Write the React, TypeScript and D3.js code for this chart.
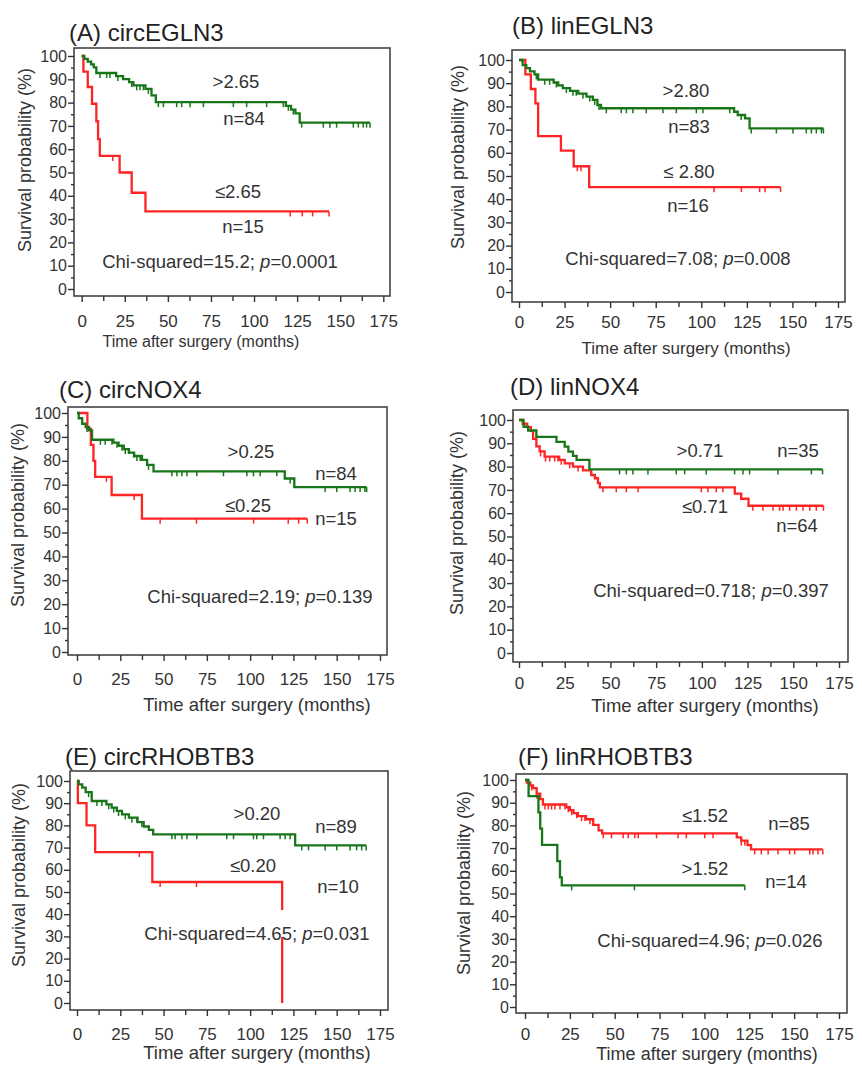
import React, { useEffect, useRef } from 'react';
import * as d3 from 'd3';

const FONT = '"Liberation Sans", Arial, Helvetica, sans-serif';
const GREEN = '#187518';
const RED = '#ff2424';

const xTicks = [0, 25, 50, 75, 100, 125, 150, 175];
const xMinor = [12.5, 37.5, 62.5, 87.5, 112.5, 137.5, 162.5];
const yTicks = [0, 10, 20, 30, 40, 50, 60, 70, 80, 90, 100];
const yMinor = [5, 15, 25, 35, 45, 55, 65, 75, 85, 95];

// (A) circEGLN3
const aHighTimes = [1.5, 3.5, 5.5, 7, 8.5, 20, 24, 27.5, 30, 37, 40.5, 43, 118.5, 121.5, 124, 126.5];
const aHighSurv = [98.8, 97.6, 96.4, 95.1, 92.7, 91.4, 90.1, 88.8, 87.4, 85.9, 83.1, 80.2, 78.6, 77.0, 75.4, 71.4];
const aHighCens = [10.6, 14.5, 16.4, 21, 29, 31.9, 33.8, 35.8, 38.7, 44.5, 47.4, 55.1, 58, 62.9, 70.6, 88, 95.7, 107.3, 117, 119.9, 122.8, 127.6, 140.2, 144, 147.9, 157.6, 160.5, 163.4, 165.3, 167.3];
const aLowTimes = [1, 3.5, 6, 8.5, 9.5, 10.5, 22, 29, 37];
const aLowSurv = [93.3, 86.7, 79.5, 72.0, 64.3, 57.1, 50.0, 41.3, 33.3];
const aLowCens = [18, 121, 128, 134, 143.5];

// (B) linEGLN3
const bHighTimes = [2, 4, 6, 8.5, 10.5, 19, 21.5, 24, 28, 32.5, 37, 40.5, 43, 45, 118, 120, 124, 126.5];
const bHighSurv = [97.8, 96.5, 95.1, 93.8, 91.5, 90.3, 89.1, 87.9, 86.7, 85.5, 84.2, 82.8, 80.6, 79.2, 77.7, 76.3, 74.8, 70.5];
const bHighCens = [9.5, 14.1, 16.8, 20.5, 26, 29.6, 31.4, 35.1, 38.8, 41.5, 43.9, 47.9, 56.1, 58.9, 62.5, 69.8, 79, 86.3, 97.3, 100.9, 115.6, 121.9, 127.4, 141.2, 150.3, 157.6, 160.4, 163.1, 165.9, 167];
const bLowTimes = [3.5, 6.5, 9, 10.5, 23, 30, 38.5];
const bLowSurv = [93.8, 87.5, 81.3, 67.2, 60.9, 54.2, 45.2];
const bLowCens = [32, 34, 107, 122, 132, 135, 143.5];

// (C) circNOX4
const cHighTimes = [1, 3, 5, 7, 8.7, 21, 24, 27, 30, 33, 37.5, 40.5, 44.2, 120, 125.5];
const cHighSurv = [97.8, 95.5, 94.1, 92.7, 88.8, 87.6, 86.3, 84.9, 83.4, 82.0, 80.4, 78.3, 75.6, 72.6, 69.0];
const cHighCens = [5.8, 13.5, 16.3, 20.2, 23.1, 26, 27.9, 29.8, 32.7, 34.6, 36.5, 41.3, 54.8, 57.7, 60.6, 63.5, 69.2, 84.6, 98.1, 101.9, 105.8, 115.4, 123.1, 143.3, 150, 157.7, 160.6, 163.5, 166.3, 167.3];
const cLowTimes = [6, 8, 9.5, 10.5, 20, 37.5];
const cLowSurv = [93.3, 86.7, 80, 73.3, 65.7, 55.8];
const cLowCens = [17, 33, 48, 69, 102, 122, 128, 133];

// (D) linNOX4
const dHighTimes = [2.5, 5, 9.5, 20.5, 25, 27, 29.5, 31.5, 38.5];
const dHighSurv = [97.1, 95.5, 92.8, 90.6, 88.6, 86.4, 84.6, 82.9, 78.8];
const dHighCens = [55, 58.7, 62.3, 70.5, 86, 90.6, 102.4, 117.9, 122.5, 126.1, 141.6, 159.9, 166];
const dLowTimes = [2, 4.5, 6.5, 7.7, 9.5, 11.3, 14, 22, 25, 29.5, 35, 39.5, 41.5, 43.2, 44.2, 118, 121.5, 125.5];
const dLowSurv = [98.4, 96.9, 95.3, 91.9, 88.7, 86.5, 84.3, 82.9, 81.4, 80.0, 78.4, 76.4, 75.0, 72.9, 71.1, 68.4, 66.2, 63.2];
const dLowCens = [11.8, 14.5, 16.8, 19.5, 21.3, 23.1, 27.7, 32.3, 45.9, 53.2, 58.7, 65.1, 99.7, 103.3, 107.9, 111.5, 127.9, 133.4, 138.9, 142.5, 144.4, 148, 151.7, 155.3, 159, 162.6, 166.5];

// (E) circRHOBTB3
const eHighTimes = [1, 3, 5, 8.5, 17, 20, 23, 26, 30, 35, 38.5, 41.5, 44, 126];
const eHighSurv = [98.5, 97, 95, 91, 89.5, 88, 86.5, 85, 83.5, 81.5, 79.5, 78, 76, 71];
const eHighCens = [6.7, 11.5, 14.4, 18.3, 21.2, 24, 27.9, 31.7, 34.6, 37.5, 54.8, 56.7, 60.6, 63.5, 69.2, 86.5, 90.4, 101.9, 103.8, 107.7, 117.3, 120.2, 123.1, 129.8, 133.7, 143.3, 150, 157.7, 161.5, 164.4, 167];
const eLowTimes = [0.5, 5.5, 10.5, 43.5, 118.5];
const eLowSurv = [90, 80, 68, 54.5, 0];
const eLowCens = [36, 48, 69];

// (F) linRHOBTB3
const fLowTimes = [1, 3, 4.5, 6.5, 8.5, 10, 23, 25, 27, 29.5, 34, 38, 41, 43, 118, 120.5, 124, 126];
const fLowSurv = [98.8, 97.6, 96.4, 94.0, 91.6, 89.2, 88.0, 86.7, 85.4, 84.1, 82.7, 80.2, 77.8, 76.5, 74.7, 73.3, 71.3, 69.4];
const fLowCens = [3.7, 6.5, 8.4, 11.1, 13, 14.8, 16.7, 19.5, 22.3, 24.1, 26, 28.8, 31.5, 33.4, 36.2, 43.6, 48.2, 54.7, 57.5, 61.2, 63.1, 73.3, 85.3, 89.9, 100.2, 104.8, 120.6, 122.5, 128, 131.7, 135.5, 141, 147.5, 150.3, 158.7, 160.5, 163.3, 166];
const fHighTimes = [2, 7.5, 8.5, 9.5, 18, 19.5, 20.5];
const fHighSurv = [92.9, 85.7, 78.6, 71.4, 64.3, 57.1, 53.6];
const fHighCens = [26, 61, 122.5];

const panels = [
  {
    title: '(A) circEGLN3', titlePos: [69, 41],
    frame: [74, 48, 390, 296], xr: [81.7, 383.3], yr: [289, 56],
    xLabelY: 327, xTitle: [201, 347, 16], yTitle: [31, 160],
    curves: [
      { times: aLowTimes, surv: aLowSurv, cens: aLowCens, color: RED },
      { times: aHighTimes, surv: aHighSurv, cens: aHighCens, color: GREEN },
    ],
    notes: [['>2.65', 236, 88], ['n=84', 244, 125], ['≤2.65', 238, 198], ['n=15', 243, 233]],
    chi: ['15.2', '0.0001', 220, 268],
  },
  {
    title: '(B) linEGLN3', titlePos: [512, 34],
    frame: [512, 50, 845, 302], xr: [519, 838], yr: [292, 60],
    xLabelY: 328, xTitle: [686, 354, 17], yTitle: [464, 157],
    curves: [
      { times: bLowTimes, surv: bLowSurv, cens: bLowCens, color: RED },
      { times: bHighTimes, surv: bHighSurv, cens: bHighCens, color: GREEN },
    ],
    notes: [['>2.80', 686, 97], ['n=83', 689, 133], ['≤ 2.80', 689, 178], ['n=16', 688, 212]],
    chi: ['7.08', '0.008', 678, 265],
  },
  {
    title: '(C) circNOX4', titlePos: [59, 398],
    frame: [68, 407, 387, 655], xr: [77, 380], yr: [652, 413],
    xLabelY: 685, xTitle: [257, 711, 18.5], yTitle: [24, 515],
    curves: [
      { times: cLowTimes, surv: cLowSurv, cens: cLowCens, color: RED },
      { times: cHighTimes, surv: cHighSurv, cens: cHighCens, color: GREEN },
    ],
    notes: [['>0.25', 251, 458], ['n=84', 336, 480], ['≤0.25', 248, 512], ['n=15', 336, 525]],
    chi: ['2.19', '0.139', 260, 603],
  },
  {
    title: '(D) linNOX4', titlePos: [510, 395],
    frame: [513, 410, 848, 662], xr: [519, 839], yr: [653, 420],
    xLabelY: 689, xTitle: [705, 712, 18.5], yTitle: [463, 523],
    curves: [
      { times: dLowTimes, surv: dLowSurv, cens: dLowCens, color: RED },
      { times: dHighTimes, surv: dHighSurv, cens: dHighCens, color: GREEN },
    ],
    notes: [['>0.71', 700, 457], ['n=35', 798, 457], ['≤0.71', 705, 513], ['n=64', 797, 532]],
    chi: ['0.718', '0.397', 711, 597],
  },
  {
    title: '(E) circRHOBTB3', titlePos: [65, 765],
    frame: [70, 771, 388, 1010], xr: [77, 380], yr: [1003, 781],
    xLabelY: 1040, xTitle: [257, 1059, 18.5], yTitle: [25, 875],
    curves: [
      { times: eLowTimes, surv: eLowSurv, cens: eLowCens, color: RED },
      { times: eHighTimes, surv: eHighSurv, cens: eHighCens, color: GREEN },
    ],
    notes: [['>0.20', 257, 820], ['n=89', 336, 833], ['≤0.20', 253, 872], ['n=10', 338, 893]],
    chi: ['4.65', '0.031', 257, 940],
    chiBox: [140, 910, 232, 27],
  },
  {
    title: '(F) linRHOBTB3', titlePos: [518, 765],
    frame: [516, 774, 847, 1013], xr: [525, 839], yr: [1007, 780],
    xLabelY: 1040, xTitle: [707, 1060, 18], yTitle: [470, 883],
    curves: [
      { times: fLowTimes, surv: fLowSurv, cens: fLowCens, color: RED },
      { times: fHighTimes, surv: fHighSurv, cens: fHighCens, color: GREEN },
    ],
    notes: [['≤1.52', 705, 822], ['n=85', 789, 830], ['>1.52', 705, 875], ['n=14', 786, 888]],
    chi: ['4.96', '0.026', 710, 947],
  },
];

function survAt(times: number[], surv: number[], t: number) {
  const i = d3.bisectRight(times, t);
  return i === 0 ? 100 : surv[i - 1];
}

function drawPanel(svg: any, p: any) {
  const g = svg.append('g');
  const x = d3.scaleLinear().domain([0, 175]).range(p.xr);
  const y = d3.scaleLinear().domain([0, 100]).range(p.yr);
  const [l, t, r, b] = p.frame;

  g.append('rect')
    .attr('x', l).attr('y', t)
    .attr('width', r - l).attr('height', b - t)
    .attr('fill', 'none').attr('stroke', '#444').attr('stroke-width', 1.6);

  // x axis
  const xMin = g.append('g').attr('transform', `translate(0,${b})`)
    .call(d3.axisBottom(x).tickValues(xMinor).tickSize(5).tickFormat(() => ''));
  xMin.select('.domain').remove();
  const xa = g.append('g').attr('transform', `translate(0,${b})`)
    .call(d3.axisBottom(x).tickValues(xTicks).tickSize(6));
  xa.select('.domain').remove();
  xa.attr('font-size', 17).attr('font-family', FONT);
  xa.selectAll('text').attr('y', p.xLabelY - b).attr('dy', null);

  // y axis
  const yMin = g.append('g').attr('transform', `translate(${l},0)`)
    .call(d3.axisLeft(y).tickValues(yMinor).tickSize(3).tickFormat(() => ''));
  yMin.select('.domain').remove();
  const ya = g.append('g').attr('transform', `translate(${l},0)`)
    .call(d3.axisLeft(y).tickValues(yTicks).tickSize(6).tickPadding(1));
  ya.select('.domain').remove();
  ya.attr('font-size', 16).attr('font-family', FONT);

  [xMin, xa, yMin, ya].forEach((a) => {
    a.attr('color', '#333');
    a.selectAll('line').attr('stroke-width', 1.4);
  });

  // curves
  const line = d3.line().curve(d3.curveStepAfter);
  p.curves.forEach((c: any) => {
    const end = Math.max(c.times[c.times.length - 1], c.cens[c.cens.length - 1]);
    const pts: [number, number][] = [[0, 100]];
    c.times.forEach((tt: number, i: number) => pts.push([tt, c.surv[i]]));
    pts.push([end, c.surv[c.surv.length - 1]]);
    g.append('path')
      .attr('d', line(pts.map(([tt, v]) => [x(tt), y(v)] as [number, number])))
      .attr('fill', 'none').attr('stroke', c.color).attr('stroke-width', 2.3);
    g.selectAll(null)
      .data(c.cens)
      .enter()
      .append('line')
      .attr('x1', (d: number) => x(d)).attr('x2', (d: number) => x(d))
      .attr('y1', (d: number) => y(survAt(c.times, c.surv, d)))
      .attr('y2', (d: number) => y(survAt(c.times, c.surv, d)) + 5)
      .attr('stroke', c.color).attr('stroke-width', 1.5);
  });

  if (p.chiBox) {
    g.append('rect')
      .attr('x', p.chiBox[0]).attr('y', p.chiBox[1])
      .attr('width', p.chiBox[2]).attr('height', p.chiBox[3])
      .attr('fill', '#fff');
  }

  // group labels
  p.notes.forEach(([txt, nx, ny]: [string, number, number]) => {
    g.append('text')
      .attr('x', nx).attr('y', ny)
      .attr('text-anchor', 'middle')
      .attr('font-family', FONT).attr('font-size', 18.5).attr('fill', '#333')
      .text(txt);
  });

  const chi = g.append('text')
    .attr('x', p.chi[2]).attr('y', p.chi[3])
    .attr('text-anchor', 'middle')
    .attr('font-family', FONT).attr('font-size', 18.5).attr('fill', '#333');
  chi.append('tspan').text(`Chi-squared=${p.chi[0]}; `);
  chi.append('tspan').attr('font-style', 'italic').text('p');
  chi.append('tspan').text(`=${p.chi[1]}`);

  // titles
  g.append('text')
    .attr('x', p.titlePos[0]).attr('y', p.titlePos[1])
    .attr('font-family', FONT).attr('font-size', 24).attr('fill', '#222')
    .text(p.title);

  g.append('text')
    .attr('x', p.xTitle[0]).attr('y', p.xTitle[1])
    .attr('text-anchor', 'middle')
    .attr('font-family', FONT).attr('font-size', p.xTitle[2]).attr('fill', '#333')
    .text('Time after surgery (months)');

  g.append('text')
    .attr('transform', `translate(${p.yTitle[0]},${p.yTitle[1]}) rotate(-90)`)
    .attr('text-anchor', 'middle')
    .attr('font-family', FONT).attr('font-size', 18).attr('fill', '#333')
    .text('Survival probability (%)');
}

export default function App() {
  const ref = useRef<SVGSVGElement>(null);

  useEffect(() => {
    const svg = d3.select(ref.current);
    svg.selectAll('*').remove();
    panels.forEach((p) => drawPanel(svg, p));
  }, []);

  return (
    <svg
      ref={ref}
      width={862}
      height={1066}
      style={{ position: 'absolute', left: 0, top: 0, background: '#fff' }}
    />
  );
}
